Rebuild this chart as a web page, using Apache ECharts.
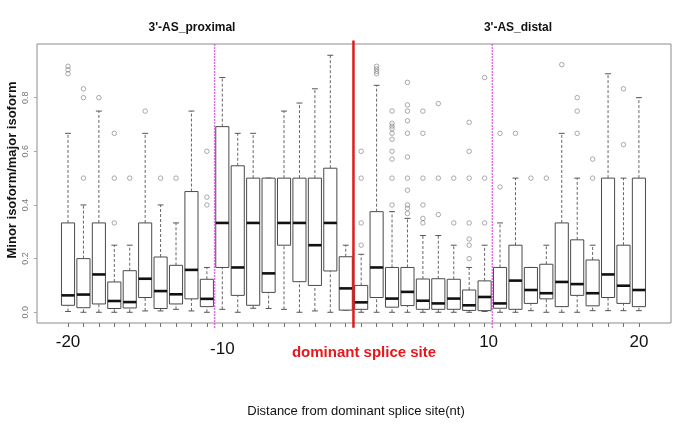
<!DOCTYPE html>
<html>
<head>
<meta charset="utf-8">
<script src="https://cdn.jsdelivr.net/npm/echarts@6/dist/echarts.min.js"></script>
<style>
  html, body { margin: 0; padding: 0; background: #fff; }
  #chart { width: 685px; height: 440px; }
</style>
</head>
<body>
<div id="chart"></div>
<script>
// distance from dominant splice site, one box each
const positions = [-20, -19, -18, -17, -16, -15, -14, -13, -12, -11, -10, -9, -8, -7, -6, -5, -4, -3, -2,
  2, 3, 4, 5, 6, 7, 8, 9, 10, 11, 12, 13, 14, 15, 16, 17, 18, 19, 20];

const lowWhisker = [0.003, 0, 0, 0, 0, 0.005, 0.005, 0.011, 0.005, 0, 0.011, 0, 0.015, 0.014, 0.011, 0, 0.005, 0, 0.008,
  0, 0, 0, 0, 0, 0, 0, 0, 0.003, 0, 0, 0.006, 0, 0, 0, 0.006, 0.006, 0.006, 0.006];
const q1 = [0.026, 0.017, 0.031, 0.014, 0.016, 0.055, 0.014, 0.031, 0.05, 0.021, 0.167, 0.063, 0.026, 0.074, 0.25, 0.114, 0.1, 0.154, 0.008,
  0.011, 0.055, 0.019, 0.025, 0.011, 0.011, 0.011, 0.007, 0.006, 0.015, 0.011, 0.033, 0.05, 0.021, 0.063, 0.024, 0.055, 0.033, 0.021];
const median = [0.063, 0.066, 0.141, 0.042, 0.038, 0.125, 0.079, 0.067, 0.158, 0.05, 0.333, 0.167, 0.333, 0.145, 0.333, 0.333, 0.25, 0.333, 0.089,
  0.037, 0.167, 0.051, 0.076, 0.043, 0.033, 0.051, 0.026, 0.057, 0.033, 0.118, 0.083, 0.071, 0.113, 0.105, 0.071, 0.141, 0.099, 0.083];
const q3 = [0.333, 0.2, 0.333, 0.113, 0.155, 0.333, 0.206, 0.175, 0.45, 0.123, 0.692, 0.546, 0.5, 0.5, 0.5, 0.5, 0.5, 0.537, 0.207,
  0.1, 0.375, 0.167, 0.167, 0.124, 0.125, 0.123, 0.083, 0.117, 0.167, 0.25, 0.167, 0.179, 0.333, 0.27, 0.195, 0.5, 0.25, 0.5];
const highWhisker = [0.667, 0.4, 0.75, 0.25, 0.25, 0.667, 0.4, 0.333, 0.75, 0.167, 0.875, 0.667, 0.667, 0.5, 0.75, 0.78, 0.833, 0.958, 0.25,
  0.216, 0.846, 0.375, 0.35, 0.286, 0.286, 0.25, 0.167, 0.25, 0.333, 0.5, 0.167, 0.25, 0.667, 0.5, 0.25, 0.889, 0.5, 0.8];

const outliers = [
  [0.889, 0.904, 0.917], [0.5, 0.8, 0.833], [0.8], [0.333, 0.5, 0.667], [0.5], [0.75], [0.5], [0.5], [], [0.4, 0.429, 0.6],
  [], [], [], [], [], [], [], [], [],
  [0.25, 0.333, 0.5, 0.6], [0.889, 0.898, 0.907, 0.917],
  [0.4, 0.5, 0.571, 0.6, 0.645, 0.667, 0.684, 0.694, 0.704, 0.75],
  [0.368, 0.387, 0.4, 0.455, 0.5, 0.579, 0.667, 0.714, 0.75, 0.773, 0.857],
  [0.333, 0.35, 0.4, 0.5, 0.667, 0.75], [0.364, 0.5, 0.778], [0.333, 0.5],
  [0.2, 0.25, 0.273, 0.333, 0.5, 0.6, 0.708], [0.333, 0.5, 0.875], [0.467, 0.667], [0.667], [0.5], [0.5],
  [0.923], [0.667, 0.75, 0.8], [0.5, 0.571], [], [0.625, 0.833], []
];

// region borders: proximal window, dominant site, distal window
const borderPairs = [[-11, -10], [-2, 2], [10, 11]];

const labelledPositions = [-20, -10, 10, 20];
const yTicks = [0, 0.2, 0.4, 0.6, 0.8];

const FONT = '"Liberation Sans", Arial, sans-serif';

const boxData = positions.map((p, i) => [i, lowWhisker[i], q1[i], median[i], q3[i], highWhisker[i]]);
const outlierData = [];
outliers.forEach((vals, i) => vals.forEach(v => outlierData.push([i, v])));

const borderData = borderPairs.map(([a, b]) => [(positions.indexOf(a) + positions.indexOf(b)) / 2]);

function renderBox(params, api) {
  const x = api.value(0);
  const pLow = api.coord([x, api.value(1)]);
  const pQ1 = api.coord([x, api.value(2)]);
  const pMed = api.coord([x, api.value(3)]);
  const pQ3 = api.coord([x, api.value(4)]);
  const pHigh = api.coord([x, api.value(5)]);
  const w = api.size([0.85, 0])[0];
  const cap = w * 0.45;
  const cx = pMed[0];
  const dashed = { stroke: '#555', lineWidth: 0.9, lineDash: [3, 2] };
  const solid = { stroke: '#555', lineWidth: 1 };
  return {
    type: 'group',
    children: [
      { type: 'line', shape: { x1: cx, y1: pQ3[1], x2: cx, y2: pHigh[1] }, style: dashed },
      { type: 'line', shape: { x1: cx, y1: pLow[1], x2: cx, y2: pQ1[1] }, style: dashed },
      { type: 'line', shape: { x1: cx - cap / 2, y1: pHigh[1], x2: cx + cap / 2, y2: pHigh[1] }, style: solid },
      { type: 'line', shape: { x1: cx - cap / 2, y1: pLow[1], x2: cx + cap / 2, y2: pLow[1] }, style: solid },
      { type: 'rect', shape: { x: cx - w / 2, y: pQ3[1], width: w, height: pQ1[1] - pQ3[1] },
        style: { fill: '#fff', stroke: '#4a4a4a', lineWidth: 1 } },
      { type: 'line', shape: { x1: cx - w / 2, y1: pMed[1], x2: cx + w / 2, y2: pMed[1] },
        style: { stroke: '#111', lineWidth: 2.6 } }
    ]
  };
}

// vertical separators; the middle one (dominant site) is solid red
function renderBorder(params, api) {
  const x = api.value(0);
  const isSite = params.dataIndex === 1;
  const bottom = api.coord([x, -0.058]);
  const top = api.coord([x, isSite ? 1.013 : 1.0]);
  return {
    type: 'line',
    shape: { x1: bottom[0], y1: bottom[1], x2: top[0], y2: top[1] },
    style: isSite
      ? { stroke: '#dd1c1c', lineWidth: 2.5 }
      : { stroke: '#e33be3', lineWidth: 1.5, lineDash: [1.5, 1.5] }
  };
}

const chart = echarts.init(document.getElementById('chart'), null, { renderer: 'canvas' });

chart.setOption({
  animation: false,
  backgroundColor: '#fff',
  grid: {
    left: 37, right: 14, top: 44, bottom: 117,
    show: true, borderColor: '#8c8c8c', borderWidth: 1
  },
  xAxis: {
    type: 'value',
    min: -2.01,
    max: 39.08,
    axisLine: { show: false, onZero: false },
    splitLine: { show: false },
    axisTick: {
      show: true,
      length: 4,
      customValues: positions.map((p, i) => i),
      lineStyle: { color: '#777', width: 1 }
    },
    axisLabel: {
      customValues: labelledPositions.map(p => positions.indexOf(p)),
      margin: 11,
      formatter: v => {
        const p = positions[Math.round(v)];
        if (p === -10) return '{lo|' + p + '}';
        if (p === 10) return '{r|' + p + '}';
        return '{n|' + p + '}';
      },
      rich: {
        n: { fontSize: 17, fontFamily: FONT, color: '#111' },
        lo: { fontSize: 17, fontFamily: FONT, color: '#111', padding: [7, 0, 0, 0] },
        r: { fontSize: 17, fontFamily: FONT, color: '#111', padding: [0, 0, 0, 8] }
      }
    }
  },
  yAxis: {
    type: 'value',
    min: -0.04,
    max: 1.0,
    axisLine: { show: false, onZero: false },
    splitLine: { show: false },
    axisTick: {
      show: true,
      length: 3,
      customValues: yTicks,
      lineStyle: { color: '#aaa' }
    },
    axisLabel: {
      customValues: yTicks,
      rotate: 90,
      margin: 7,
      fontSize: 9,
      fontFamily: FONT,
      color: '#777',
      formatter: v => v.toFixed(1)
    }
  },
  graphic: [
    { type: 'text', x: 192, y: 28, style: { text: "3'-AS_proximal", font: 'bold 12px ' + FONT, fill: '#111', textAlign: 'center', textVerticalAlign: 'middle' } },
    { type: 'text', x: 518, y: 28, style: { text: "3'-AS_distal", font: 'bold 12px ' + FONT, fill: '#111', textAlign: 'center', textVerticalAlign: 'middle' } },
    { type: 'text', x: 364, y: 353, style: { text: 'dominant splice site', font: 'bold 15px ' + FONT, fill: '#e8171b', textAlign: 'center', textVerticalAlign: 'middle' } },
    { type: 'text', x: 356, y: 411, style: { text: 'Distance from dominant splice site(nt)', font: '13px ' + FONT, fill: '#111', textAlign: 'center', textVerticalAlign: 'middle' } },
    { type: 'text', x: 12, y: 170, rotation: Math.PI / 2, style: { text: 'Minor isoform/major isoform', font: 'bold 13px ' + FONT, fill: '#111', textAlign: 'center', textVerticalAlign: 'middle' } }
  ],
  series: [
    {
      type: 'custom',
      renderItem: renderBox,
      data: boxData,
      encode: { x: 0, y: [1, 2, 3, 4, 5] },
      z: 2
    },
    {
      type: 'scatter',
      data: outlierData,
      symbol: 'circle',
      symbolSize: 4.5,
      itemStyle: { color: 'rgba(0,0,0,0)', borderColor: '#7a7a7a', borderWidth: 0.8 },
      z: 3
    },
    {
      type: 'custom',
      renderItem: renderBorder,
      data: borderData,
      encode: { x: 0 },
      clip: false,
      silent: true,
      z: 4
    }
  ]
});

window.addEventListener('resize', () => chart.resize());
</script>
</body>
</html>
